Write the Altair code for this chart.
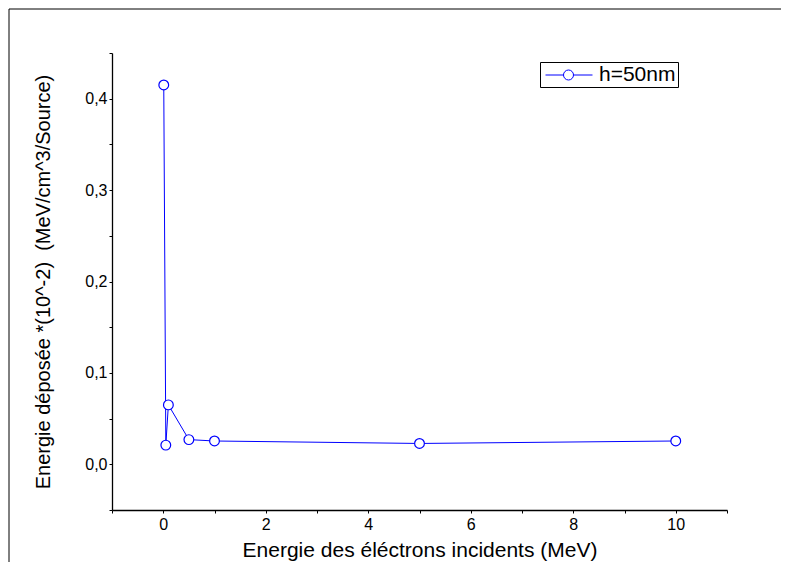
import altair as alt
import pandas as pd

energy = [0.01, 0.05, 0.1, 0.5, 1, 5, 10]
dose = [0.415, 0.021, 0.065, 0.027, 0.0255, 0.0228, 0.0255]
series = ["h=50nm"] * len(energy)

x_ticks = [-1, 0, 1, 2, 3, 4, 5, 6, 7, 8, 9, 10, 11]
y_ticks = [-0.05, 0.0, 0.05, 0.1, 0.15, 0.2, 0.25, 0.3, 0.35, 0.4, 0.45]

df = pd.DataFrame({"energy": energy, "dose": dose, "series": series})

FONT = "Liberation Sans"
BLUE = "#0000ff"
W, H = 615, 457
PAD = {"left": 104, "top": 45, "right": 54, "bottom": 52}

x_enc = alt.X(
    "energy:Q",
    scale=alt.Scale(domain=[-1, 11], nice=False, zero=False),
    axis=alt.Axis(
        title="Energie des éléctrons incidents (MeV)",
        values=x_ticks,
        labelExpr="(datum.value >= 0 && datum.value <= 10 && datum.value % 2 == 0) ? datum.label : ''",
        tickSize=3,
        labelPadding=3,
        titlePadding=7,
        titleFontSize=21,
        grid=False,
    ),
)
y_enc = alt.Y(
    "dose:Q",
    scale=alt.Scale(domain=[-0.05, 0.45], nice=False, zero=False),
    axis=alt.Axis(
        title="Energie déposée *(10^-2) \u00a0(MeV/cm^3/Source)",
        values=y_ticks,
        labelExpr="(abs(datum.value*10 - round(datum.value*10)) < 0.001 && datum.value >= 0 && datum.value <= 0.4) ? replace(format(datum.value, '.1f'), '.', ',') : ''",
        tickSize=3,
        labelPadding=2,
        titlePadding=31,
        titleFontSize=20,
        grid=False,
    ),
)

# line - circle - line symbol, left-aligned in the nominal [-1,1] box
legend_path = (
    "M-1,0H0.714 M1.667,0H3.476 "
    "M1.667,0A0.476,0.476 0 1,1 0.714,0A0.476,0.476 0 1,1 1.667,0"
)

line = alt.Chart(df).mark_line(strokeWidth=1).encode(
    x=x_enc,
    y=y_enc,
    order=alt.Order("energy:Q"),
    color=alt.Color(
        "series:N",
        scale=alt.Scale(range=[BLUE]),
        legend=alt.Legend(
            title=None,
            orient="none",
            legendX=428,
            legendY=9,
            symbolType=legend_path,
            symbolSize=441,
            symbolStrokeWidth=1,
            symbolFillColor="white",
            symbolStrokeColor=BLUE,
            symbolOffset=3,
            labelFont=FONT,
            labelFontSize=21,
            labelColor="black",
            labelOffset=32,
            strokeColor="black",
            fillColor="white",
            padding=2,
            offset=0,
        ),
    ),
)

points = alt.Chart(df).mark_point(
    shape="circle", filled=True, fill="white", stroke=BLUE, strokeWidth=1.2, size=95, opacity=1
).encode(x="energy:Q", y="dose:Q")

frame_df = pd.DataFrame({"a": [0]})
frame_left = alt.Chart(frame_df).mark_rule(color="black", strokeWidth=1).encode(
    x=alt.value(-103), y=alt.value(-44), y2=alt.value(H + PAD["bottom"])
)
frame_top = alt.Chart(frame_df).mark_rule(color="black", strokeWidth=1).encode(
    x=alt.value(-103), x2=alt.value(W + PAD["right"]), y=alt.value(-44)
)

chart = (
    alt.layer(line, points, frame_left, frame_top)
    .properties(width=W, height=H, autosize=alt.AutoSizeParams(type="none"), padding=PAD)
    .configure_view(stroke=None)
    .configure_axis(
        labelFont=FONT,
        titleFont=FONT,
        labelFontSize=16,
        titleFontWeight="normal",
        labelColor="black",
        titleColor="black",
        domainColor="black",
        tickColor="black",
        domainWidth=1.3,
    )
)

chart.save("out.html", embed_options={"renderer": "svg", "actions": False})
